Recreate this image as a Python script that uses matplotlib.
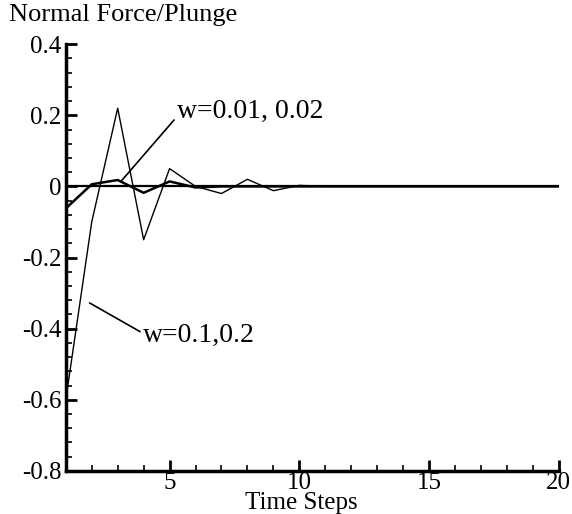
import numpy as np
import matplotlib.pyplot as plt
from matplotlib.ticker import MultipleLocator

plt.rcParams['font.family'] = ['Liberation Serif', 'DejaVu Serif']

# time steps and normal force response
steps = [1, 2, 3, 4, 5, 6, 7, 8, 9, 10, 11, 12, 13, 14, 15, 16, 17, 18, 19, 20]
force_big = [-0.60, -0.10, 0.22, -0.15, 0.05, 0.00, -0.02, 0.02, -0.012, 0.003,
             0.0, 0.0, 0.0, 0.0, 0.0, 0.0, 0.0, 0.0, 0.0, 0.0]      # w=0.1,0.2
force_small = [-0.062, 0.006, 0.018, -0.018, 0.014, -0.003, 0.0, 0.0, 0.0, 0.0,
               0.0, 0.0, 0.0, 0.0, 0.0, 0.0, 0.0, 0.0, 0.0, 0.0]    # w=0.01,0.02

fig = plt.figure(figsize=(5.72, 5.14), dpi=100)
ax = fig.add_axes([0.115, 0.084, 0.862, 0.830])

ax.axhline(0, color='black', lw=1.6)
ax.plot(steps, force_big, color='black', lw=1.0)
ax.plot(steps, force_small, color='black', lw=1.8)

ax.set_xlim(1, 20)
ax.set_ylim(-0.8, 0.4)
ax.xaxis.set_major_locator(MultipleLocator(5))
ax.xaxis.set_minor_locator(MultipleLocator(1))
ax.yaxis.set_major_locator(MultipleLocator(0.2))
ax.yaxis.set_minor_locator(MultipleLocator(0.04))
ax.set_yticks([0.4, 0.2, 0, -0.2, -0.4, -0.6, -0.8])
ax.set_yticklabels(['0.4', '0.2', '0', '-0.2', '-0.4', '-0.6', '-0.8'])
ax.set_xticks([5, 10, 15, 20])

ax.spines['top'].set_visible(False)
ax.spines['right'].set_visible(False)
ax.spines['left'].set_linewidth(2.5)
ax.spines['bottom'].set_linewidth(2.5)
ax.tick_params(which='major', direction='in', length=8, width=2, labelsize=18, pad=3)
ax.tick_params(which='minor', direction='in', length=4, width=1.2)
ax.tick_params(axis='x', which='major', pad=1)

ax.annotate('w=0.01, 0.02', xy=(3.16, 0.017), xytext=(5.28, 0.21),
            fontsize=20, va='center', ha='left',
            arrowprops=dict(arrowstyle='-', color='black', lw=1.2, shrinkA=0, shrinkB=0,
                            relpos=(0, 0.3)))
ax.annotate('w=0.1,0.2', xy=(1.73, -0.32), xytext=(3.97, -0.42),
            fontsize=20, va='center', ha='left',
            arrowprops=dict(arrowstyle='-', color='black', lw=1.2, shrinkA=0, shrinkB=4,
                            relpos=(0, 0.6)))

fig.text(0.015, 0.97, 'Normal Force/Plunge', fontsize=19, ha='left', va='center')
fig.text(0.526, 0.022, 'Time Steps', fontsize=18, ha='center', va='center')

fig.savefig('out.png', dpi=100)
